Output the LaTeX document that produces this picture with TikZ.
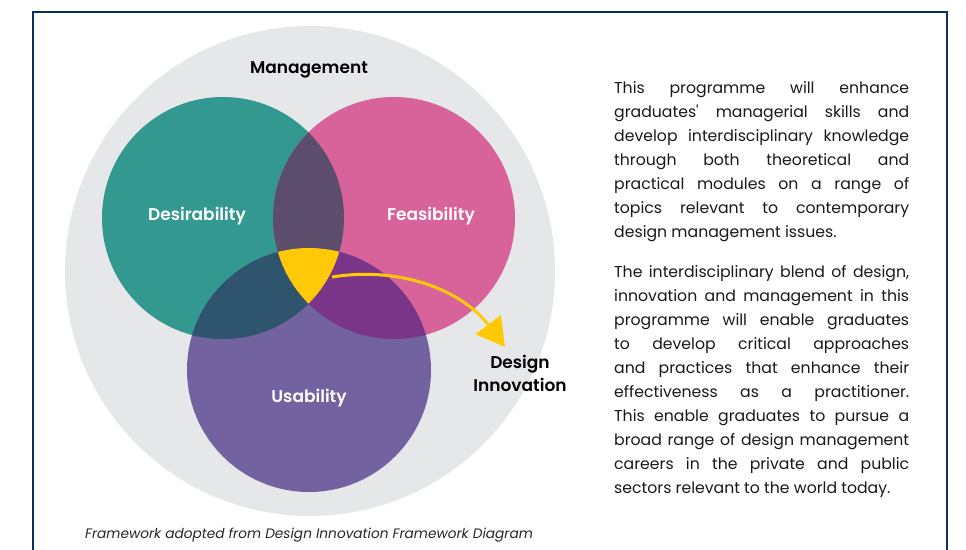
\documentclass[tikz,border=0pt]{standalone}
\usepackage{fontspec}
\setmainfont{Poppins}[BoldFont={Poppins SemiBold}, Ligatures=TeXOff]
\usepackage{tikz}
\usetikzlibrary{positioning,arrows.meta}

\definecolor{frameblue}{HTML}{0C2F5C}
\definecolor{mgmtgrey}{HTML}{E6E7E8}
\definecolor{desteal}{HTML}{329890}
\definecolor{feaspink}{HTML}{D8629A}
\definecolor{usepurple}{HTML}{7262A0}
\definecolor{dfmix}{HTML}{5C4D6D}
\definecolor{dumix}{HTML}{2F546E}
\definecolor{fumix}{HTML}{7A3589}
\definecolor{coreyellow}{HTML}{FFC907}

\def\desir{(223,218) circle (121pt)}
\def\feas{(394,218) circle (121pt)}
\def\usab{(309,370) circle (122pt)}

\begin{document}
\begin{tikzpicture}[x=1pt, y=-1pt,
        tag/.style={font=\fontsize{17}{21}\selectfont\bfseries, inner sep=0pt},
        settag/.style={tag, text=white},
        para/.style={text width=295pt, align=justify, inner sep=0pt,
            font=\fontsize{15.7}{24}\selectfont, text=black!90},
        credit/.style={font=\fontsize{13.7}{16}\selectfont\itshape, inner sep=0pt, text=black!85},
        flow/.style={draw=coreyellow, line width=3pt, -{Triangle[length=28pt, width=31pt, fill=coreyellow]}}
    ]
        \useasboundingbox (0,0) rectangle (966,549);

        % Outer frame
        \draw[frameblue, line width=2.5pt] (33,12) rectangle (947,580);

        % Management
        \fill[mgmtgrey] (310,271) circle (245pt);

        % Sets
        \fill[desteal] \desir;
        \fill[feaspink] \feas;
        \fill[usepurple] \usab;

        % Overlaps
        \begin{scope}
            \clip \desir;
            \fill[dfmix] \feas;
            \fill[dumix] \usab;
        \end{scope}
        \begin{scope}
            \clip \feas;
            \fill[fumix] \usab;
        \end{scope}
        \begin{scope}
            \clip \desir;
            \clip \feas;
            \fill[coreyellow] \usab;
        \end{scope}

        % Labels
        \node[tag, anchor=base] (mgmt) at (309,73) {Management};
        \node[settag, anchor=base] (des) at (197,220) {Desirability};
        \node[settag, anchor=base] (fea) at (431,220) {Feasibility};
        \node[settag, anchor=base] (usa) at (309,402) {Usability};
        \node[tag, anchor=base] (design) at (520,368) {Design};
        \node[tag, below=5pt of design] (innov) {Innovation};

        % Arrow
        \coordinate (core) at (332,277);
        \coordinate (tip) at (505,347);
        \draw[flow] (core) .. controls (400,266) and (462,290) .. (tip);

        % Text
        \node[para, anchor=north west] (intro) at (614,81) {This programme will enhance\linebreak
            graduates' managerial skills and\linebreak
            develop interdisciplinary knowledge\linebreak
            through both theoretical and\linebreak
            practical modules on a range of\linebreak
            topics relevant to contemporary\linebreak
            design management issues.};
        \node[para, below=24pt of intro] (blend) {The interdisciplinary blend of design,\linebreak
            innovation and management in this\linebreak
            programme will enable graduates\linebreak
            to develop critical approaches\linebreak
            and practices that enhance their\linebreak
            effectiveness as a practitioner.\linebreak
            This enable graduates to pursue a\linebreak
            broad range of design management\linebreak
            careers in the private and public\linebreak
            sectors relevant to the world today.};

        % Caption
        \node[credit, anchor=base west] (source) at (85,538) {Framework adopted from Design Innovation Framework Diagram};
    \end{tikzpicture}
\end{document}
